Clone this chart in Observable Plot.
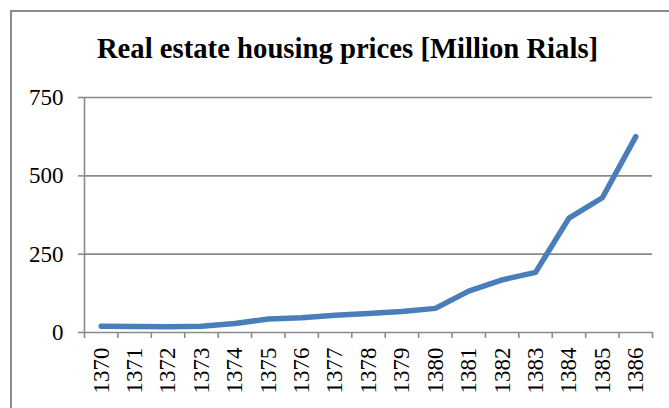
<!DOCTYPE html>
<html>
<head>
<meta charset="utf-8">
<script src="https://cdn.jsdelivr.net/npm/d3@7"></script>
<script src="https://cdn.jsdelivr.net/npm/@observablehq/plot@0.6"></script>
<style>
  html, body { margin: 0; padding: 0; background: #fff; overflow: hidden; }
  #chart { width: 669px; height: 408px; }
</style>
</head>
<body>
<div id="chart"></div>
<script>
const title = "Real estate housing prices [Million Rials]";
const years = [1370, 1371, 1372, 1373, 1374, 1375, 1376, 1377, 1378, 1379, 1380, 1381, 1382, 1383, 1384, 1385, 1386];
const prices = [20, 19, 18, 20, 29, 43, 47, 55, 61, 67, 77, 132, 168, 192, 365, 430, 625];
const yTicks = [0, 250, 500, 750];

const data = years.map((y, i) => ({year: y, price: prices[i]}));
const boundaries = [...years.map(y => y - 0.5), years[years.length - 1] + 0.5];
const gray = "#8a8a8a";

const plot = Plot.plot({
  width: 669,
  height: 408,
  marginLeft: 84,
  marginRight: 17,
  marginTop: 97,
  marginBottom: 76,
  style: {fontFamily: "'Liberation Serif', 'Times New Roman', serif", background: "#fff", color: "#000"},
  x: {type: "linear", domain: [years[0] - 0.5, years[years.length - 1] + 0.5]},
  y: {domain: [0, 750]},
  marks: [
    Plot.ruleY(yTicks.slice(1), {stroke: gray, strokeWidth: 1.6}),
    Plot.ruleX([years[0] - 0.5], {stroke: gray, strokeWidth: 1.6}),
    Plot.ruleY([0], {stroke: gray, strokeWidth: 1.6}),
    Plot.axisY({ticks: yTicks, tickSize: 6, text: null, stroke: gray, strokeWidth: 1.6, label: null}),
    Plot.axisY({ticks: yTicks, tickSize: 0, tickPadding: 21, fontSize: 23, label: null, tickFormat: d => `${d}`}),
    Plot.axisX({ticks: boundaries, tickSize: 6, text: null, stroke: gray, strokeWidth: 1.6, label: null}),
    Plot.axisX({ticks: years, tickSize: 0, tickPadding: 15, tickRotate: -90, fontSize: 23, label: null, tickFormat: d => `${d}`}),
    Plot.line(data, {x: "year", y: "price", stroke: "#4a7ebb", strokeWidth: 5.5, strokeLinecap: "round", strokeLinejoin: "round"}),
    Plot.text([title], {frameAnchor: "top", dx: -21, dy: -40, lineAnchor: "bottom", fontSize: 28.7, fontWeight: "bold", fill: "#000"})
  ]
});

d3.select(plot).append("rect")
  .attr("x", 11).attr("y", 11).attr("width", 800).attr("height", 600)
  .attr("fill", "none").attr("stroke", gray).attr("stroke-width", 2);

document.getElementById("chart").appendChild(plot);
</script>
</body>
</html>
